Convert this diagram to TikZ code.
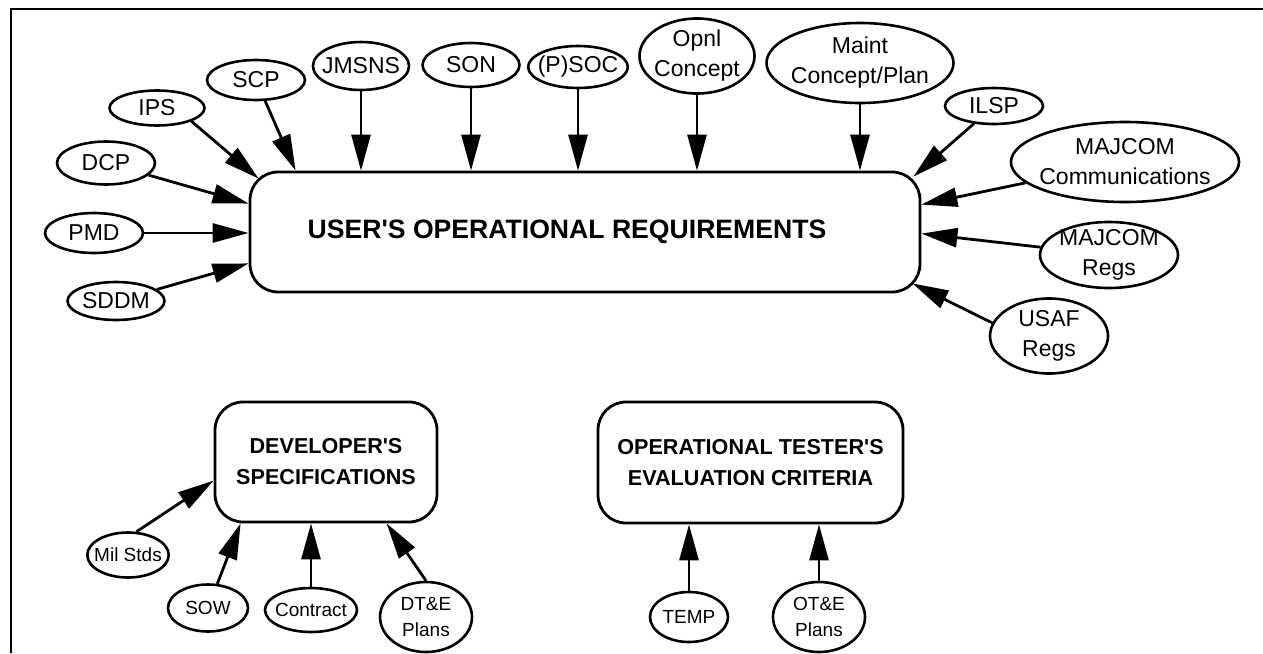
\documentclass[tikz,border=0pt]{standalone}
\usepackage{fontspec}
\setmainfont{Liberation Sans}
\usetikzlibrary{shapes.geometric,arrows.meta}

\begin{document}
\begin{tikzpicture}[x=0.5pt,y=-0.5pt,
  src/.style={draw,ellipse,line width=1.3pt,inner sep=-2.5pt,align=center,
    font=\fontsize{11.5}{15}\selectfont},
  srcsm/.style={src,font=\fontsize{9.5}{13}\selectfont},
  doc/.style={draw,rectangle,rounded corners=14pt,line width=1.4pt,align=center,
    font=\bfseries\fontsize{10.8}{15.5}\selectfont},
  arr/.style={-{Triangle[length=18pt,width=9.5pt]},line width=1.4pt}]
  \useasboundingbox (0,0) rectangle (1263,653);
  % frame (top and left only)
  \draw[line width=1.4pt] (11,653) -- (11,9) -- (1263,9);

  % requirement documents
  \node[doc,minimum width=335pt,minimum height=60pt,font=\bfseries\fontsize{13.3}{16}\selectfont]
    (usr) at (585,232) {USER\textquotesingle S OPERATIONAL REQUIREMENTS\hspace*{18pt}};
  \node[doc,minimum width=111pt,minimum height=60pt] (dev) at (326,462)
    {DEVELOPER\textquotesingle S\\SPECIFICATIONS};
  \node[doc,minimum width=152.5pt,minimum height=60.5pt] (ot) at (750.5,462.5)
    {OPERATIONAL TESTER\textquotesingle S\\EVALUATION CRITERIA};

  % sources of the user's requirements
  \node[src,minimum width=47.5pt,minimum height=17.5pt] (ips) at (157,108) {IPS};
  \node[src,minimum width=49pt,minimum height=21.5pt] (dcp) at (106,163) {DCP};
  \node[src,minimum width=49pt,minimum height=20pt] (pmd) at (94,233) {PMD};
  \node[src,minimum width=48.5pt,minimum height=19pt] (sddm) at (116,301) {SDDM};
  \node[src,minimum width=49pt,minimum height=20pt] (scp) at (256,80) {SCP};
  \node[src,minimum width=46.5pt,minimum height=24pt] (jmsns) at (361,66) {JMSNS};
  \node[src,minimum width=48.5pt,minimum height=22pt] (son) at (471,65) {SON};
  \node[src,minimum width=49pt,minimum height=21pt] (psoc) at (578,67) {(P)SOC};
  \node[src,minimum width=57.5pt,minimum height=37.5pt] (opnl) at (697,56) {Opnl\\Concept};
  \node[src,minimum width=93.5pt,minimum height=40pt] (maint) at (860,63) {Maint\\Concept/Plan};
  \node[src,minimum width=49pt,minimum height=18pt] (ilsp) at (994,106) {ILSP};
  \node[src,minimum width=108pt,minimum height=40pt] (comm) at (1125,162) {MAJCOM\\Communications};
  \node[src,minimum width=69pt,minimum height=33pt] (mregs) at (1109,255) {MAJCOM\\Regs};
  \node[src,minimum width=59pt,minimum height=37.5pt] (usaf) at (1049,336) {USAF\\Regs};

  \draw[arr] (ips.south east) -- ([shift={(10,8)}]usr.north west);
  \draw[arr] (dcp) -- ([shift={(0,33)}]usr.north west);
  \draw[arr] (pmd) -- (pmd -| usr.west);
  \draw[arr] (sddm) -- ([shift={(0,-30)}]usr.south west);
  \draw[arr] (scp) -- ([shift={(47,0)}]usr.north west);
  \draw[arr] (jmsns) -- (jmsns |- usr.north);
  \draw[arr] (son) -- (son |- usr.north);
  \draw[arr] (psoc) -- (psoc |- usr.north);
  \draw[arr] (opnl) -- (opnl |- usr.north);
  \draw[arr] (maint) -- (maint |- usr.north);
  \draw[arr] (ilsp) -- ([shift={(-8,6)}]usr.north east);
  \draw[arr] (comm) -- ([shift={(0,34)}]usr.north east);
  \draw[arr] (mregs) -- ([shift={(0,63)}]usr.north east);
  \draw[arr] (usaf.167) -- ([shift={(-9,-10)}]usr.south east);

  % sources of the developer's specifications
  \node[srcsm,minimum width=40pt,minimum height=22.5pt] (milstds) at (128,555) {Mil Stds};
  \node[srcsm,minimum width=40pt,minimum height=23.5pt] (sow) at (208,608) {SOW};
  \node[srcsm,minimum width=46pt,minimum height=22pt] (contract) at (311,610) {Contract};
  \node[srcsm,minimum width=46pt,minimum height=35pt] (dte) at (426,617) {DT\&E\\Plans};

  \draw[arr] (milstds.70) -- ([shift={(0,80)}]dev.north west);
  \draw[arr] (sow) -- ([shift={(27,0)}]dev.south west);
  \draw[arr] (contract) -- (contract |- dev.south);
  \draw[arr] (dte.north) -- ([shift={(173,0)}]dev.south west);

  % sources of the tester's criteria
  \node[srcsm,minimum width=39pt,minimum height=25pt] (temp) at (689,617) {TEMP};
  \node[srcsm,minimum width=46pt,minimum height=35pt] (ote) at (819,617) {OT\&E\\Plans};

  \draw[arr] (temp) -- (temp |- ot.south);
  \draw[arr] (ote) -- (ote |- ot.south);
\end{tikzpicture}
\end{document}
